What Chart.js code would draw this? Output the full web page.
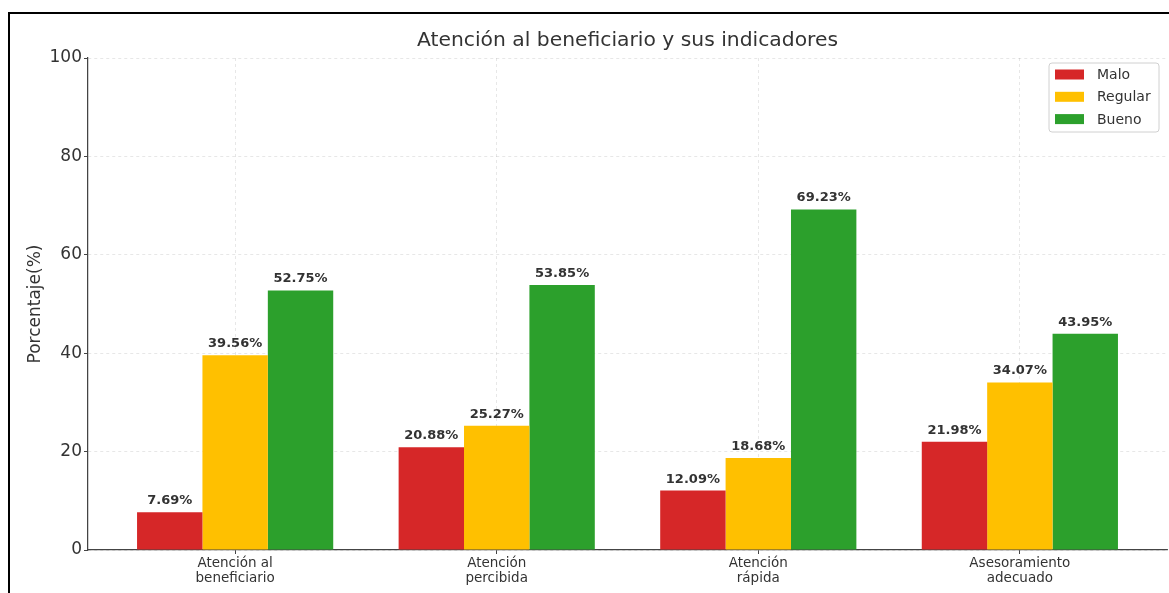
<!DOCTYPE html>
<html>
<head>
<meta charset="utf-8">
<script src="https://cdn.jsdelivr.net/npm/chart.js@4"></script>
<style>
  html, body { margin: 0; padding: 0; background: #fff; }
  #wrap { position: relative; width: 1169px; height: 593px; }
  #frame { position: absolute; left: 8px; top: 12px; right: -10px; bottom: -10px;
           border-left: 2px solid #000; border-top: 2px solid #000; pointer-events: none; }
</style>
</head>
<body>
<div id="wrap">
  <canvas id="c" width="1169" height="593"></canvas>
  <div id="frame"></div>
</div>
<script>
const categories = [
  ['Atención al', 'beneficiario'],
  ['Atención', 'percibida'],
  ['Atención', 'rápida'],
  ['Asesoramiento', 'adecuado']
];
const seriesNames = ['Malo', 'Regular', 'Bueno'];
const malo    = [7.69, 20.88, 12.09, 21.98];
const regular = [39.56, 25.27, 18.68, 34.07];
const bueno   = [52.75, 53.85, 69.23, 43.95];
const yTicks  = [0, 20, 40, 60, 80, 100];
const titleText = 'Atención al beneficiario y sus indicadores';
const yTitle = 'Porcentaje(%)';

const colors = ['#d62728', '#ffc000', '#2ca02c'];
const FONT = "'DejaVu Sans', sans-serif";

function toPoints(arr) { return arr.map((v, i) => ({ x: i, y: v })); }

const axesTitle = {
  id: 'axesTitle',
  afterDraw(chart) {
    const ctx = chart.ctx;
    const a = chart.chartArea;
    ctx.save();
    ctx.font = "20.3px " + FONT;
    ctx.fillStyle = '#333';
    ctx.textAlign = 'center';
    ctx.textBaseline = 'middle';
    ctx.fillText(titleText, (a.left + a.right) / 2, a.top - 17);
    ctx.restore();
  }
};

const dataLabels = {
  id: 'dataLabels',
  afterDatasetsDraw(chart) {
    const ctx = chart.ctx;
    ctx.save();
    ctx.font = "bold 13px " + FONT;
    ctx.fillStyle = '#333';
    ctx.textAlign = 'center';
    ctx.textBaseline = 'alphabetic';
    chart.data.datasets.forEach((ds, di) => {
      const meta = chart.getDatasetMeta(di);
      meta.data.forEach((el, i) => {
        const v = ds.data[i].y;
        ctx.fillText(v.toFixed(2) + '%', el.x, el.y - 8);
      });
    });
    ctx.restore();
  }
};

const boxLegend = {
  id: 'boxLegend',
  afterDraw(chart) {
    const ctx = chart.ctx;
    const a = chart.chartArea;
    const w = 110, h = 69;
    const x = a.right - 8 - w, y = a.top + 5;
    ctx.save();
    ctx.beginPath();
    ctx.roundRect(x, y, w, h, 3);
    ctx.fillStyle = 'rgba(255,255,255,0.85)';
    ctx.fill();
    ctx.strokeStyle = '#d0d0d0';
    ctx.lineWidth = 1;
    ctx.stroke();
    ctx.font = "14px " + FONT;
    ctx.textBaseline = 'middle';
    ctx.textAlign = 'left';
    chart.data.datasets.forEach((ds, i) => {
      const cy = y + 11.5 + i * 22.3;
      ctx.fillStyle = ds.backgroundColor;
      ctx.fillRect(x + 6, cy - 5, 29, 10);
      ctx.fillStyle = '#333';
      ctx.fillText(ds.label, x + 48, cy + 1);
    });
    ctx.restore();
  }
};

new Chart(document.getElementById('c'), {
  type: 'bar',
  data: {
    datasets: [
      { label: seriesNames[0], data: toPoints(malo), backgroundColor: colors[0] },
      { label: seriesNames[1], data: toPoints(regular), backgroundColor: colors[1] },
      { label: seriesNames[2], data: toPoints(bueno), backgroundColor: colors[2] }
    ]
  },
  options: {
    responsive: false,
    animation: false,
    devicePixelRatio: 1,
    layout: { padding: { left: 0, right: 2, top: 58, bottom: 0 } },
    datasets: { bar: { categoryPercentage: 0.75, barPercentage: 1.0, borderWidth: 0 } },
    plugins: {
      legend: { display: false },
      tooltip: { enabled: false },
      title: { display: false }
    },
    scales: {
      x: {
        type: 'linear',
        min: -0.5625,
        max: 3.5625,
        offset: false,
        bounds: 'data',
        afterBuildTicks(scale) { scale.ticks = categories.map((c, i) => ({ value: i })); },
        afterFit(scale) { scale.height = 43; },
        ticks: {
          color: '#333',
          font: { family: FONT, size: 13.5, lineHeight: 1.1 },
          padding: 2,
          maxRotation: 0,
          autoSkip: false,
          callback: (v) => categories[v]
        },
        grid: {
          offset: false,
          color: 'rgba(0,0,0,0.12)',
          lineWidth: 0.8,
          borderDash: [3, 3],
          tickColor: '#444',
          tickLength: 4,
          tickWidth: 1,
          tickBorderDash: []
        },
        border: { display: true, color: '#444', width: 1.25, dash: [3, 3] }
      },
      y: {
        min: 0,
        max: 100,
        afterBuildTicks(scale) { scale.ticks = yTicks.map(v => ({ value: v })); },
        afterFit(scale) { scale.width = 88; },
        ticks: {
          color: '#333',
          font: { family: FONT, size: 17 },
          padding: 2
        },
        title: {
          display: true,
          text: yTitle,
          color: '#333',
          font: { family: FONT, size: 17 },
          padding: { top: 25, bottom: 0 }
        },
        grid: {
          color: 'rgba(0,0,0,0.12)',
          lineWidth: 0.8,
          borderDash: [3, 3],
          tickColor: '#444',
          tickLength: 4,
          tickWidth: 1,
          tickBorderDash: []
        },
        border: { display: true, color: '#444', width: 1.25, dash: [3, 3] }
      }
    }
  },
  plugins: [dataLabels, boxLegend, axesTitle]
});
</script>
</body>
</html>
